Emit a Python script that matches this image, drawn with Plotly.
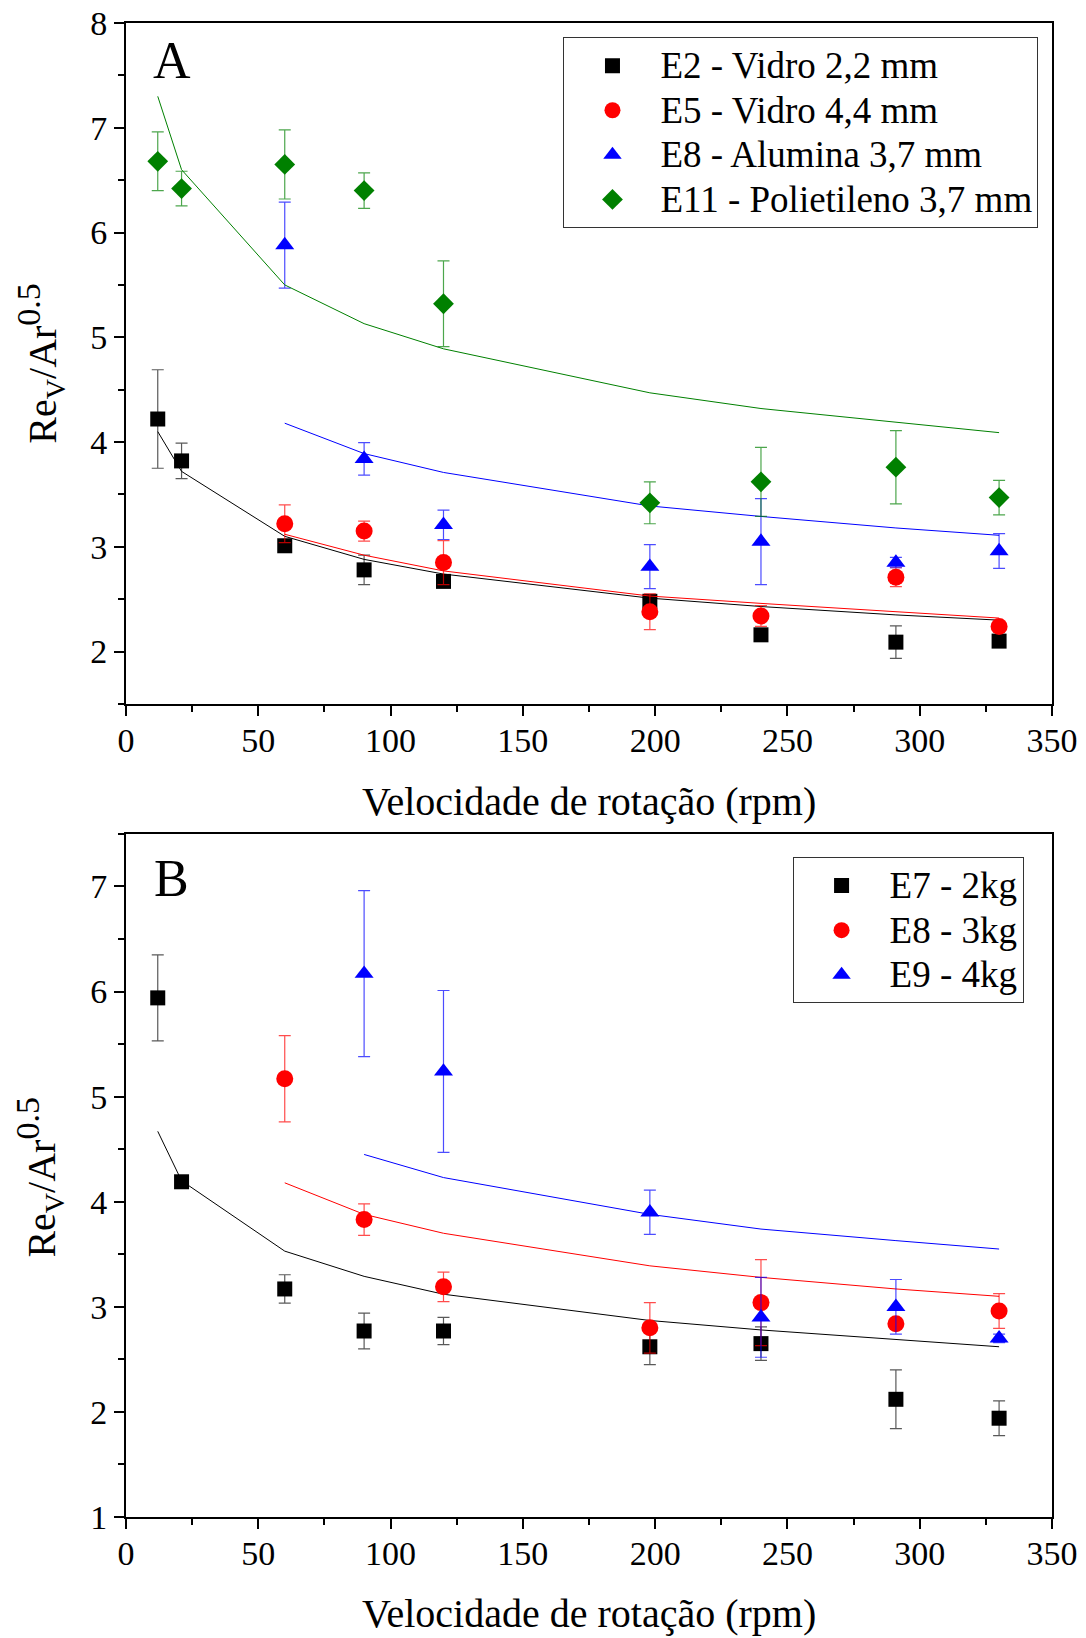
import plotly.graph_objects as go

# ---------------- data ----------------
rpm_all = [12, 21, 60, 90, 120, 198, 240, 291, 330]
rpm_sub = [60, 90, 120, 198, 240, 291, 330]
rpm_e9 = [90, 120, 198, 240, 291, 330]

# Panel A
e2_y = [4.22, 3.82, 3.01, 2.78, 2.67, 2.48, 2.16, 2.09, 2.10]
e2_err = [0.47, 0.17, 0.05, 0.14, 0.04, 0.05, 0.04, 0.155, 0.04]
e2_fit = [4.10, 3.72, 3.10, 2.88, 2.74, 2.51, 2.43, 2.35, 2.30]

e5_y = [3.22, 3.15, 2.85, 2.38, 2.34, 2.71, 2.24]
e5_err = [0.18, 0.095, 0.21, 0.17, 0.10, 0.09, 0.04]
e5_fit = [3.12, 2.92, 2.77, 2.53, 2.46, 2.38, 2.32]

e8a_y = [5.88, 3.84, 3.21, 2.81, 3.05, 2.85, 2.96]
e8a_err = [0.41, 0.155, 0.14, 0.21, 0.41, 0.05, 0.165]
e8a_fit = [4.18, 3.89, 3.71, 3.39, 3.29, 3.18, 3.11]

e11_y = [6.68, 6.42, 6.65, 6.40, 5.32, 3.42, 3.62, 3.76, 3.47]
e11_err = [0.28, 0.165, 0.33, 0.17, 0.41, 0.20, 0.33, 0.35, 0.165]
e11_fit = [7.30, 6.60, 5.50, 5.13, 4.89, 4.47, 4.32, 4.19, 4.09]

# Panel B
e7_y = [5.94, 4.19, 3.17, 2.77, 2.77, 2.62, 2.65, 2.12, 1.94]
e7_err = [0.41, 0.03, 0.135, 0.17, 0.13, 0.17, 0.16, 0.28, 0.165]
e7_fit = [4.67, 4.20, 3.53, 3.29, 3.12, 2.87, 2.78, 2.69, 2.62]

e8b_y = [5.17, 3.83, 3.19, 2.80, 3.04, 2.84, 2.96]
e8b_err = [0.41, 0.15, 0.14, 0.24, 0.41, 0.04, 0.165]
e8b_fit = [4.18, 3.88, 3.70, 3.39, 3.28, 3.17, 3.10]

e9_y = [6.17, 5.24, 3.90, 2.90, 3.00, 2.70]
e9_err = [0.79, 0.77, 0.21, 0.38, 0.26, 0.04]
e9_fit = [4.45, 4.23, 3.88, 3.74, 3.63, 3.55]

names_a = ["E2 - Vidro 2,2 mm", "E5 - Vidro 4,4 mm", "E8 - Alumina 3,7 mm", "E11 - Polietileno 3,7 mm"]
names_b = ["E7 - 2kg", "E8 - 3kg", "E9 - 4kg"]
x_title = "Velocidade de rotação (rpm)"
y_title = "Re<sub>V</sub>/Ar<sup><span style=\"font-size:34px\">0.5</span></sup>"

FONT = "Liberation Serif"
BLACK, RED, BLUE, GREEN = "#000000", "#FF0000", "#0000FF", "#008000"
ERRC = {BLACK: "rgba(0,0,0,0.65)", RED: "rgba(255,0,0,0.7)",
        BLUE: "rgba(0,0,255,0.7)", GREEN: "rgba(0,128,0,0.7)"}

fig = go.Figure()


def legend_label(s):
    return '<span style="font-size:37px">' + s + '</span>'


def add_series(x, y, err, fit, name, color, symbol, size, xa, ya, legend):
    fig.add_trace(go.Scatter(
        x=x, y=fit, mode="lines", line=dict(color=color, width=1),
        showlegend=False, xaxis=xa, yaxis=ya, hoverinfo="skip"))
    fig.add_trace(go.Scatter(
        x=x, y=y, mode="markers", name=legend_label(name),
        marker=dict(color=color, symbol=symbol, size=size, line=dict(width=0)),
        error_y=dict(type="data", array=err, visible=True, color=ERRC[color],
                     thickness=1.2, width=6),
        xaxis=xa, yaxis=ya, legend=legend))


# Panel A
add_series(rpm_all, e2_y, e2_err, e2_fit, names_a[0], BLACK, "square", 15, "x", "y", "legend")
add_series(rpm_sub, e5_y, e5_err, e5_fit, names_a[1], RED, "circle", 17, "x", "y", "legend")
add_series(rpm_sub, e8a_y, e8a_err, e8a_fit, names_a[2], BLUE, "triangle-up", 16.5, "x", "y", "legend")
add_series(rpm_all, e11_y, e11_err, e11_fit, names_a[3], GREEN, "diamond", 16, "x", "y", "legend")

# Panel B
add_series(rpm_all, e7_y, e7_err, e7_fit, names_b[0], BLACK, "square", 15, "x2", "y2", "legend2")
add_series(rpm_sub, e8b_y, e8b_err, e8b_fit, names_b[1], RED, "circle", 17, "x2", "y2", "legend2")
add_series(rpm_e9, e9_y, e9_err, e9_fit, names_b[2], BLUE, "triangle-up", 16.5, "x2", "y2", "legend2")

tickfont = dict(family=FONT, size=34, color="black")
ax_common = dict(showline=True, linecolor="black", linewidth=2, mirror=True,
                 ticks="outside", ticklen=10, tickwidth=2, tickcolor="black",
                 showgrid=False, zeroline=False, tickfont=tickfont,
                 automargin=False,
                 minor=dict(ticks="outside", ticklen=6, tickwidth=2,
                            tickcolor="black", showgrid=False))

xax = dict(ax_common, range=[0, 350], tick0=0, dtick=50, ticklabelstandoff=-5)
xax["minor"] = dict(ax_common["minor"], dtick=25)

yaxA = dict(ax_common, range=[1.5, 8], tick0=0, dtick=1, domain=[0.5442, 1.0])
yaxA["minor"] = dict(ax_common["minor"], tick0=0, dtick=0.5)
yaxB = dict(ax_common, range=[1, 7.5], tick0=0, dtick=1, domain=[0.0, 0.4572])
yaxB["minor"] = dict(ax_common["minor"], tick0=0, dtick=0.5)

legend_common = dict(font=dict(family=FONT, size=32, color="black"),
                     bgcolor="white", bordercolor="#333333", borderwidth=1,
                     itemwidth=86, xanchor="right", yanchor="top",
                     tracegroupgap=0)

fig.update_layout(
    template="none",
    width=1086, height=1638,
    margin=dict(l=126, r=34, t=23, b=121),
    paper_bgcolor="white", plot_bgcolor="white",
    font=dict(family=FONT, color="black"),
    xaxis=dict(xax, anchor="y"),
    yaxis=dict(yaxA, anchor="x"),
    xaxis2=dict(xax, anchor="y2"),
    yaxis2=dict(yaxB, anchor="x2"),
    legend=dict(legend_common, x=0.9854, y=0.9904),
    legend2=dict(legend_common, x=0.9693, y=0.4416),
    showlegend=True,
)

ann_font = dict(family=FONT, size=40, color="black")
annotations = [
    dict(text="A", x=0.0498, y=0.9752, xref="paper", yref="paper",
         xanchor="center", yanchor="middle", showarrow=False,
         font=dict(family=FONT, size=52, color="black")),
    dict(text="B", x=0.0494, y=0.4277, xref="paper", yref="paper",
         xanchor="center", yanchor="middle", showarrow=False,
         font=dict(family=FONT, size=52, color="black")),
    dict(text=x_title, x=0.5, y=0.4786, xref="paper", yref="paper",
         xanchor="center", yanchor="middle", showarrow=False, font=ann_font),
    dict(text=x_title, x=0.5, y=-0.0649, xref="paper", yref="paper",
         xanchor="center", yanchor="middle", showarrow=False, font=ann_font),
    dict(text=y_title, x=-0.0933, y=0.7724, xref="paper", yref="paper",
         xanchor="center", yanchor="middle", showarrow=False, textangle=-90,
         font=ann_font),
    dict(text=y_title, x=-0.0933, y=0.2276, xref="paper", yref="paper",
         xanchor="center", yanchor="middle", showarrow=False, textangle=-90,
         font=ann_font),
]
fig.update_layout(annotations=annotations)

fig.write_html("out.html")
